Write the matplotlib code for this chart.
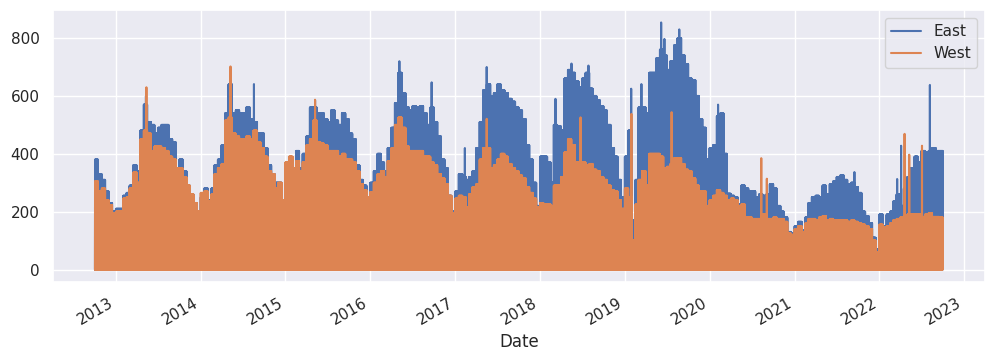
import numpy as np
import pandas as pd
import matplotlib
matplotlib.use("Agg")
import matplotlib.pyplot as plt
import matplotlib.dates as mdates
import seaborn as sns

# peak level of the hourly counts per half month (1st-15th, 16th-end),
# Oct 2012 .. Sep 2022
east_level = [
    380, 330, 310, 270, 230, 200,
    210, 210, 255, 265, 290, 360, 340, 480, 570, 510, 500, 470, 490, 500, 500, 450, 440, 350, 380, 340, 290, 260, 230, 200,
    250, 280, 240, 280, 360, 380, 430, 540, 640, 540, 550, 540, 540, 560, 520, 510, 470, 470, 420, 360, 330, 300, 300, 240,
    370, 370, 350, 410, 350, 400, 460, 560, 560, 540, 540, 520, 510, 550, 515, 500, 540, 520, 470, 450, 360, 310, 290, 250,
    300, 340, 400, 370, 340, 420, 490, 575, 680, 610, 560, 550, 565, 560, 565, 540, 500, 560, 510, 460, 380, 350, 255, 200,
    270, 330, 320, 310, 320, 340, 420, 510, 620, 640, 600, 610, 640, 620, 610, 590, 580, 560, 550, 520, 430, 380, 300, 220,
    390, 390, 370, 300, 500, 495, 480, 660, 690, 680, 650, 630, 660, 680, 625, 600, 585, 565, 550, 500, 420, 390, 310, 250,
    390, 480, 170, 310, 560, 560, 540, 680, 680, 730, 760, 740, 690, 720, 775, 800, 740, 710, 660, 655, 600, 520, 490, 380,
    420, 430, 530, 540, 400, 262, 255, 250, 225, 290, 280, 270, 270, 250, 260, 255, 260, 295, 280, 220, 200, 180, 130, 125,
    150, 165, 135, 180, 230, 250, 255, 250, 290, 260, 295, 305, 320, 325, 310, 295, 300, 285, 265, 200, 185, 160, 110, 70,
    190, 150, 190, 200, 235, 260, 220, 280, 320, 350, 390, 370, 410, 405, 410, 420, 410, 410,
]

west_level = [
    305, 270, 280, 240, 222, 195,
    200, 200, 245, 250, 280, 335, 300, 450, 480, 470, 410, 425, 425, 420, 410, 390, 380, 350, 350, 320, 290, 260, 230, 200,
    265, 270, 235, 260, 330, 350, 365, 515, 525, 470, 460, 450, 450, 460, 450, 480, 440, 420, 390, 340, 330, 280, 300, 240,
    370, 390, 350, 375, 340, 370, 430, 450, 515, 440, 435, 430, 410, 410, 410, 390, 400, 380, 380, 370, 340, 295, 275, 250,
    268, 300, 330, 340, 320, 375, 420, 500, 525, 490, 425, 410, 410, 410, 410, 390, 390, 370, 360, 330, 315, 295, 255, 195,
    245, 255, 250, 215, 260, 285, 295, 380, 420, 420, 350, 360, 380, 400, 390, 365, 350, 340, 325, 315, 285, 265, 245, 215,
    230, 225, 225, 220, 290, 290, 320, 405, 450, 430, 370, 350, 370, 360, 365, 345, 340, 320, 310, 290, 275, 270, 240, 210,
    280, 250, 100, 225, 310, 340, 290, 400, 400, 400, 390, 350, 355, 365, 385, 385, 365, 345, 340, 315, 290, 270, 270, 220,
    240, 255, 275, 265, 255, 240, 245, 240, 220, 225, 180, 180, 175, 175, 175, 190, 175, 175, 180, 175, 175, 165, 125, 120,
    140, 150, 130, 160, 175, 175, 170, 180, 185, 170, 175, 170, 170, 170, 170, 165, 170, 165, 160, 155, 150, 140, 100, 60,
    155, 145, 150, 160, 170, 175, 180, 185, 190, 190, 190, 190, 182, 190, 195, 182, 182, 180,
]

# single-day peaks that stick out of the level
east_spikes = [
    ("2013-05-10", 600), ("2014-05-09", 670), ("2014-08-18", 641),
    ("2015-05-08", 585), ("2016-05-05", 720), ("2016-09-21", 647),
    ("2017-02-11", 420), ("2017-05-16", 700), ("2018-03-08", 590),
    ("2018-05-16", 712), ("2018-07-28", 705), ("2019-01-28", 625),
    ("2019-03-13", 641), ("2019-06-06", 854), ("2019-06-20", 797),
    ("2019-08-23", 830), ("2020-02-06", 570), ("2021-09-15", 337),
    ("2022-03-18", 313), ("2022-04-04", 428), ("2022-08-06", 638),
]
west_spikes = [
    ("2013-05-12", 630), ("2014-05-09", 702), ("2015-05-08", 587),
    ("2017-05-16", 521), ("2018-06-24", 526), ("2019-01-29", 538),
    ("2019-07-21", 544), ("2020-08-10", 385), ("2020-09-03", 314),
    ("2022-04-19", 469), ("2022-05-09", 397), ("2022-07-03", 428),
]

# holiday / snow days
dips = [
    ("2012-12-25", 105), ("2013-12-25", 147), ("2014-12-25", 160),
    ("2015-12-25", 150), ("2016-12-25", 125), ("2018-12-25", 100),
    ("2019-12-25", 147), ("2021-12-27", 40),
]

days = pd.date_range("2012-10-03", "2022-09-30", freq="D")
half = ((days.year - 2012) * 12 + days.month - 10) * 2 + (days.day > 15)
east_day = np.array(east_level, dtype=float)[half]
west_day = np.array(west_level, dtype=float)[half]

for d, v in east_spikes:
    east_day[days.get_loc(pd.Timestamp(d))] = v
for d, v in west_spikes:
    west_day[days.get_loc(pd.Timestamp(d))] = v
for d, v in dips:
    i = days.get_loc(pd.Timestamp(d))
    east_day[i] = min(east_day[i], v)
    west_day[i] = min(west_day[i], v)

# night-time zero and daytime peak for each day
times = days.repeat(2) + pd.to_timedelta(np.tile([0, 12], len(days)), unit="h")
east = np.column_stack([np.zeros(len(days)), east_day]).ravel()
west = np.column_stack([np.zeros(len(days)), west_day]).ravel()

sns.set_theme()
fig, ax = plt.subplots(figsize=(9.92, 3.61), dpi=100)
ax.plot(times, east, label="East")
ax.plot(times, west, label="West")

ax.xaxis.set_major_locator(mdates.YearLocator())
ax.xaxis.set_major_formatter(mdates.DateFormatter("%Y"))
ax.set_xlabel("Date")
ax.legend(loc="upper right")
fig.autofmt_xdate(rotation=30, ha="right")

fig.subplots_adjust(left=0.053, right=0.993, top=0.972, bottom=0.219)
fig.savefig("out.png")
